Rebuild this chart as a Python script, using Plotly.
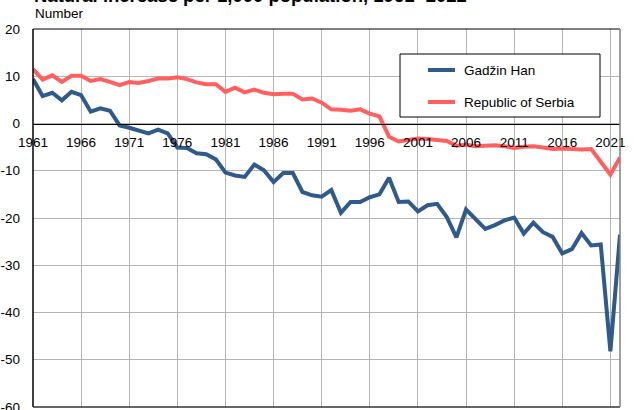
import plotly.graph_objects as go

years = list(range(1961, 2023))

gadzin_han = [9.4, 5.8, 6.5, 4.9, 6.7, 6.0, 2.5, 3.2, 2.7, -0.4,
              -0.9, -1.6, -2.1, -1.3, -2.1, -5.1, -5.2, -6.3, -6.5, -7.6,
              -10.4, -11.0, -11.3, -8.7, -9.9, -12.4, -10.5, -10.5, -14.5, -15.2,
              -15.5, -14.1, -18.9, -16.6, -16.6, -15.6, -15.0, -11.5, -16.6, -16.5,
              -18.6, -17.3, -17.0, -19.8, -24.1, -18.2, -20.3, -22.3, -21.5, -20.5,
              -19.9, -23.3, -21.0, -23.0, -24.0, -27.5, -26.6, -23.2, -25.8, -25.6,
              -48.2, -23.5]

serbia = [11.5, 9.3, 10.2, 8.8, 10.1, 10.1, 9.0, 9.4, 8.8, 8.1,
          8.8, 8.6, 9.0, 9.5, 9.5, 9.8, 9.4, 8.7, 8.3, 8.3,
          6.7, 7.6, 6.6, 7.2, 6.5, 6.2, 6.3, 6.3, 5.1, 5.3,
          4.4, 3.0, 2.9, 2.7, 3.0, 2.1, 1.5, -2.8, -3.8, -3.4,
          -3.2, -3.3, -3.4, -3.7, -4.7, -4.5, -4.8, -4.6, -4.6, -4.8,
          -5.2, -4.9, -4.8, -5.1, -5.4, -5.3, -5.5, -5.5, -5.4, -8.1,
          -10.8, -7.2]

series_names = ["Gadžin Han", "Republic of Serbia"]
series_colors = ["#2f5a8b", "#ff5f5f"]

x_tickvals = list(range(1961, 2022, 5))
x_ticktext = [str(v) for v in x_tickvals]
y_tickvals = [-60, -50, -40, -30, -20, -10, 0, 10, 20]
y_ticktext = [str(v) for v in y_tickvals]

title_text = "Natural increase per 1,000 population, 1961- 2022"
y_label = "Number"

FONT = "Liberation Sans, Arial, sans-serif"
GRID = "#b5b5b5"

fig = go.Figure()
for name, vals, col in zip(series_names, [gadzin_han, serbia], series_colors):
    fig.add_trace(go.Scatter(x=years, y=vals, mode="lines", name=name,
                             line=dict(color=col, width=4), showlegend=False,
                             hoverinfo="skip"))

fig.update_layout(
    width=634, height=410,
    margin=dict(l=33, r=14, t=29, b=3, autoexpand=False),
    paper_bgcolor="white", plot_bgcolor="white",
    font=dict(family=FONT, size=13, color="#000000"),
    xaxis=dict(range=[1961, 2022], tickvals=x_tickvals, ticktext=x_ticktext,
               showgrid=True, gridcolor=GRID, gridwidth=1,
               anchor="free", position=0.75, side="bottom",
               showline=True, linecolor="#000000", linewidth=1,
               zeroline=False, ticks="", ticklabelstandoff=6, automargin=False,
               ticklabeloverflow="allow", tickfont=dict(size=13.5)),
    yaxis=dict(range=[-60, 20], tickvals=y_tickvals, ticktext=y_ticktext,
               showgrid=True, gridcolor=GRID, gridwidth=1,
               zeroline=False, showline=False, ticks="", automargin=False,
               ticklabelstandoff=12, ticklabeloverflow="allow",
               tickfont=dict(size=13.5)),
)

# frame
fig.add_shape(type="line", xref="paper", yref="paper", x0=0, x1=1, y0=1, y1=1,
              line=dict(color="#000000", width=1))
fig.add_shape(type="line", xref="paper", yref="paper", x0=0, x1=0, y0=0, y1=1,
              line=dict(color="#000000", width=1.5))
fig.add_shape(type="line", xref="paper", yref="paper", x0=0, x1=1, y0=0, y1=0,
              line=dict(color="#333333", width=1.5))
fig.add_shape(type="line", xref="paper", yref="paper", x0=1, x1=1, y0=0, y1=1,
              line=dict(color="#808080", width=1.5))

# title and axis label
fig.add_annotation(text="<b>" + title_text + "</b>", xref="paper", yref="paper",
                   x=0.0, y=1.056, xanchor="left", yanchor="bottom", showarrow=False,
                   font=dict(size=18.5, family=FONT), xshift=-1)
fig.add_annotation(text=y_label, xref="paper", yref="paper",
                   x=0.0, y=1.04, xanchor="left", yanchor="middle", showarrow=False,
                   font=dict(size=13.5, family=FONT), xshift=0)

# legend box (manual)
W, H = 587.0, 378.0
def px(xp):
    return (xp - 33) / W
def py(yp):
    return (407 - yp) / H

fig.add_shape(type="rect", xref="paper", yref="paper",
              x0=px(400), x1=px(600), y0=py(117), y1=py(54),
              line=dict(color="#000000", width=1), fillcolor="white")
for i, (name, col) in enumerate(zip(series_names, series_colors)):
    yy = [70, 102][i]
    fig.add_shape(type="line", xref="paper", yref="paper",
                  x0=px(428), x1=px(455), y0=py(yy), y1=py(yy),
                  line=dict(color=col, width=4))
    fig.add_annotation(text=name, xref="paper", yref="paper",
                       x=px(462), y=py(yy), xanchor="left", yanchor="middle",
                       showarrow=False, font=dict(size=13.5, family=FONT))

fig.write_html("out.html", config={"displayModeBar": False},
               post_script="document.body.style.margin='0';document.body.style.overflow='hidden';")
